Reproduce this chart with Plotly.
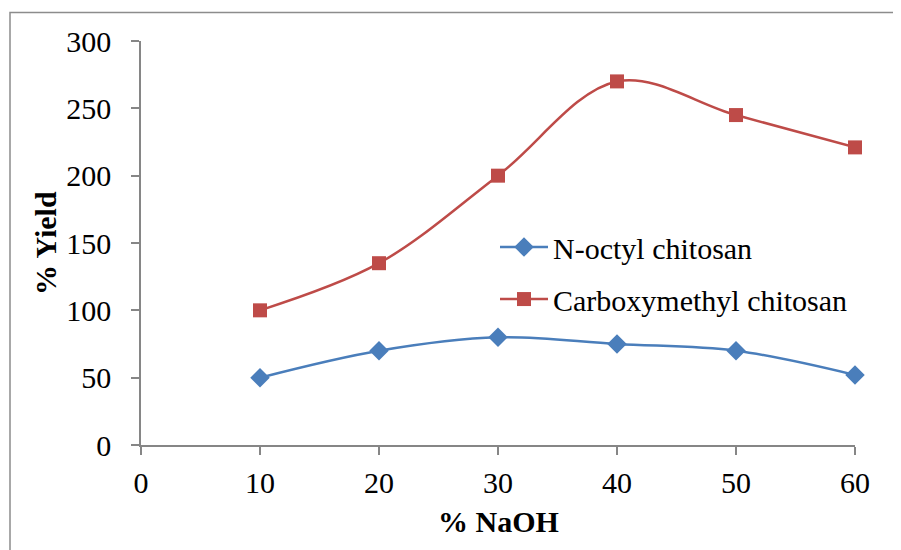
import plotly.graph_objects as go

naoh = [10, 20, 30, 40, 50, 60]
n_octyl = [50, 70, 80, 75, 70, 52]
carboxymethyl = [100, 135, 200, 270, 245, 221]
x_ticks = [0, 10, 20, 30, 40, 50, 60]
y_ticks = [0, 50, 100, 150, 200, 250, 300]

# page has an 8px body margin; the figure is placed at (8, 8)
OFF = 8
W, H = 901 - OFF, 550 - OFF
L, R, T, B = 141 - OFF, 46, 40.5 - OFF, 104.5
pw, ph = W - L - R, H - T - B

def px_x(p):  # page pixel -> paper x
    return (p - OFF - L) / pw

def px_y(p):  # page pixel -> paper y
    return (H - B - (p - OFF)) / ph

FONT = "Liberation Serif, Times New Roman, serif"
FS = 30

fig = go.Figure()
fig.add_trace(go.Scatter(
    x=naoh, y=n_octyl, name="N-octyl chitosan", mode="lines+markers",
    line=dict(color="#4A7EBB", width=2.5, shape="spline", smoothing=1),
    marker=dict(symbol="diamond", size=15, color="#4A7EBB"),
    legendgroup="a", cliponaxis=False))
fig.add_trace(go.Scatter(
    x=naoh, y=carboxymethyl, name="Carboxymethyl chitosan", mode="lines+markers",
    line=dict(color="#BE4B48", width=2.5, shape="spline", smoothing=1),
    marker=dict(symbol="square", size=14, color="#BE4B48"),
    legendgroup="b", cliponaxis=False))

axis_common = dict(showline=True, linecolor="#868686", linewidth=1.5,
                   ticks="outside", ticklen=8, tickwidth=1.5, tickcolor="#868686",
                   showgrid=False, zeroline=False,
                   tickfont=dict(family=FONT, size=FS, color="black"))

fig.update_xaxes(range=[0, 60], tickvals=x_ticks, ticklabelstandoff=2, **axis_common)
fig.update_yaxes(range=[0, 300], tickvals=y_ticks, ticklabelstandoff=14, **axis_common)

fig.add_annotation(text="<b>% NaOH</b>", xref="paper", yref="paper",
                   x=px_x(498), y=px_y(522), xanchor="center", yanchor="middle",
                   showarrow=False, font=dict(family=FONT, size=FS, color="black"))
fig.add_annotation(text="<b>% Yield</b>", xref="paper", yref="paper",
                   x=px_x(45), y=px_y(243), xanchor="center", yanchor="middle",
                   textangle=-90, showarrow=False,
                   font=dict(family=FONT, size=FS, color="black"))

fig.add_shape(type="rect", xref="paper", yref="paper",
              x0=px_x(10), x1=px_x(930), y0=px_y(12), y1=px_y(580),
              line=dict(color="#8C8C8C", width=1.5), fillcolor="rgba(0,0,0,0)", layer="below")

fig.update_layout(
    width=W, height=H,
    margin=dict(l=L, r=R, t=T, b=B),
    plot_bgcolor="white", paper_bgcolor="white",
    legend=dict(x=px_x(495), y=px_y(221), xanchor="left", yanchor="top",
                font=dict(family=FONT, size=FS, color="black"),
                bgcolor="rgba(0,0,0,0)", tracegroupgap=10, itemwidth=48),
    showlegend=True,
)

fig.write_html("out.html")
